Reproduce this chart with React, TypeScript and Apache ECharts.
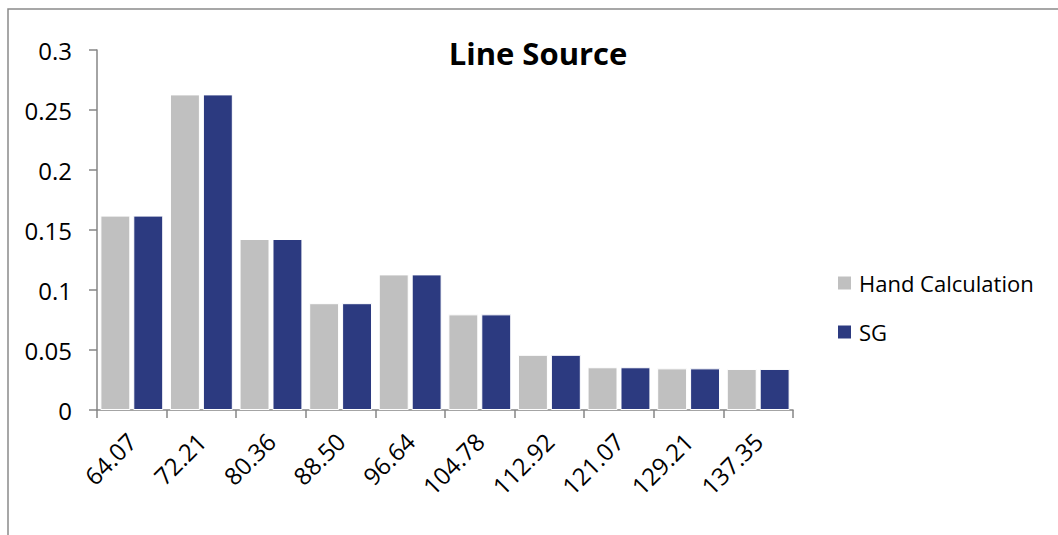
import React, { useEffect, useRef } from "react";
import * as echarts from "echarts";

const categories = ["64.07", "72.21", "80.36", "88.50", "96.64", "104.78", "112.92", "121.07", "129.21", "137.35"];
const handCalculation = [0.162, 0.263, 0.1425, 0.089, 0.113, 0.0797, 0.046, 0.0356, 0.0347, 0.0342];
const sg = [0.162, 0.263, 0.1425, 0.089, 0.113, 0.0797, 0.046, 0.0356, 0.0347, 0.0342];
const yTicks = { min: 0, max: 0.3, interval: 0.05 };

const FONT = "Open Sans";

export default function App() {
  const ref = useRef<HTMLDivElement>(null);
  useEffect(() => {
    if (!ref.current) return;
    const chart = echarts.init(ref.current, undefined, { renderer: "svg" });
    chart.setOption({
      animation: false,
      backgroundColor: "#ffffff",
      title: {
        text: "Line Source",
        left: 533,
        textAlign: "center",
        top: 32,
        textStyle: { fontFamily: FONT, fontWeight: "bold", fontSize: 31, color: "#000" },
      },
      graphic: [
        {
          type: "rect",
          shape: { x: 8, y: 9, width: 1200, height: 700 },
          style: { fill: "none", stroke: "#8a8a8a", lineWidth: 1.5 },
          silent: true,
        },
      ],
      legend: {
        orient: "vertical",
        left: 836,
        top: 272,
        padding: 0,
        itemWidth: 15,
        itemHeight: 15,
        itemGap: 27,
        icon: "rect",
        textStyle: { fontFamily: FONT, fontSize: 22, color: "#000", lineHeight: 22, padding: [0, 0, 0, 2] },
        data: ["Hand Calculation", "SG"],
      },
      grid: { left: 97, right: 265, top: 50, bottom: 125, containLabel: false },
      xAxis: {
        type: "category",
        data: categories,
        axisLine: { show: true, lineStyle: { color: "#868686", width: 1.5 } },
        axisTick: { show: true, length: 8, lineStyle: { color: "#868686", width: 1.5 } },
        axisLabel: {
          rotate: 45,
          margin: 27,
          fontFamily: FONT,
          fontSize: 24,
          color: "#000",
          interval: 0,
        },
      },
      yAxis: {
        type: "value",
        min: yTicks.min,
        max: yTicks.max,
        interval: yTicks.interval,
        splitLine: { show: false },
        axisLine: { show: true, lineStyle: { color: "#868686", width: 1.5 } },
        axisTick: { show: true, length: 8, lineStyle: { color: "#868686", width: 1.5 } },
        axisLabel: {
          margin: 25,
          fontFamily: FONT,
          fontSize: 24,
          color: "#000",
          formatter: (v: number) => String(parseFloat(v.toFixed(2))),
        },
      },
      series: [
        {
          name: "Hand Calculation",
          type: "bar",
          data: handCalculation,
          barWidth: "43%",
          barGap: "10%",
          itemStyle: { color: "#c0c0c0", borderColor: "#ffffff", borderWidth: 1 },
        },
        {
          name: "SG",
          type: "bar",
          data: sg,
          barWidth: "43%",
          itemStyle: { color: "#2c3a80", borderColor: "#ffffff", borderWidth: 1 },
        },
      ],
    });
    return () => chart.dispose();
  }, []);
  return (
    <div
      ref={ref}
      style={{ position: "absolute", left: 0, top: 0, width: 1058, height: 535 }}
    />
  );
}
